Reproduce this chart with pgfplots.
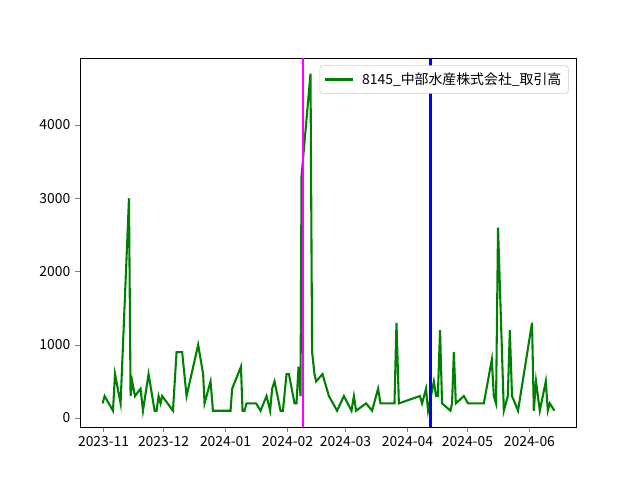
\documentclass[border=0pt]{standalone}
\usepackage{pgfplots}
\pgfplotsset{compat=1.18}
\usepackage{fontspec}
\setmainfont{Noto Sans CJK JP}
\definecolor{mplgreen}{HTML}{008000}
\definecolor{mplmagenta}{HTML}{FF00FF}
\definecolor{mplblue}{HTML}{0000FF}
\begin{document}
\begin{tikzpicture}
\begin{axis}[
  name=ax,
  scale only axis,
  width=357.1pt, height=265.7pt,
  xmin=-11.8, xmax=236.3,
  ymin=-123, ymax=4915,
  xtick={0,30,61,92,121,152,182,213},
  xticklabels={2023-11,2023-12,2024-01,2024-02,2024-03,2024-04,2024-05,2024-06},
  ytick={0,1000,2000,3000,4000},
  /pgf/number format/assume math mode=true,
  /pgf/number format/1000 sep={},
  tick label style={font=\fontsize{10}{12}\selectfont},
  tick align=outside,
  major tick length=3.5pt,
  tick pos=left,
  axis line style={line width=0.6pt},
  legend image code/.code={\draw (0pt,0pt) -- (20pt,0pt);},
  legend style={at={(0.985,0.98)}, anchor=north east, draw=black!20, rounded corners=2pt, font=\fontsize{10}{12}\selectfont, inner sep=3pt,
    /tikz/every odd column/.append style={column sep=4pt}},
  legend cell align=left,
]
\addplot[mplgreen, line width=1.5pt] coordinates {
(-0.5,200)(0.5,300)(4.7,100)(5.7,600)(8.5,200)(12.7,3000)(13.5,300)(14.3,500)(15.7,300)(18.5,400)(19.7,100)(22.5,600)(25.5,100)(26.5,100)(27.5,300)(28.5,200)(29.3,300)(34.7,100)(36.5,900)(39.3,900)(41.5,300)(47.3,1000)(49.8,600)(50.5,200)(53.5,500)(54.7,100)(63.5,100)(64.3,400)(68.7,700)(69.5,100)(70.5,100)(71.5,200)(76.3,200)(78.5,100)(81.5,300)(83.3,100)(84.3,400)(85.5,500)(88.5,100)(89.7,100)(91.5,600)(92.7,600)(95.5,200)(96.5,200)(97.5,700)(98.5,300)(99,3300)(103.5,4700)(104.3,900)(105.5,600)(106.3,500)(109.5,600)(112.7,300)(116.8,100)(120.2,300)(124,100)(125.2,300)(126.3,100)(131.3,200)(134.3,100)(137.3,400)(138.5,200)(145.5,200)(146.5,1300)(147.7,200)(158.2,300)(159.3,200)(161.3,400)(162.3,100)(165.2,500)(166.3,300)(167.2,300)(168.3,1200)(169.3,200)(173.5,100)(174.3,200)(175.2,900)(176.2,200)(180.2,300)(182.3,200)(190.2,200)(194.2,800)(195.2,300)(196.3,200)(197.3,2600)(200.2,100)(202.2,300)(203.2,1200)(204.3,300)(207.3,100)(214.3,1300)(215.2,100)(216.3,500)(218.2,100)(221.2,500)(222.2,100)(223.2,200)(225.5,100)
};
\addlegendentry{8145\_中部水産株式会社\_取引高}
\addplot[mplmagenta, line width=1.5pt, forget plot] coordinates {(99.6,-123)(99.6,4915)};
\addplot[mplblue, line width=1.5pt, forget plot] coordinates {(163.5,-123)(163.5,4915)};
\end{axis}
\pgfresetboundingbox
\path (ax.south west) ++(-57.6pt,-38.16pt) coordinate (bl);
\path (ax.north east) ++(46.08pt,41.76pt) coordinate (tr);
\path (bl) rectangle (tr);
\end{tikzpicture}
\end{document}
